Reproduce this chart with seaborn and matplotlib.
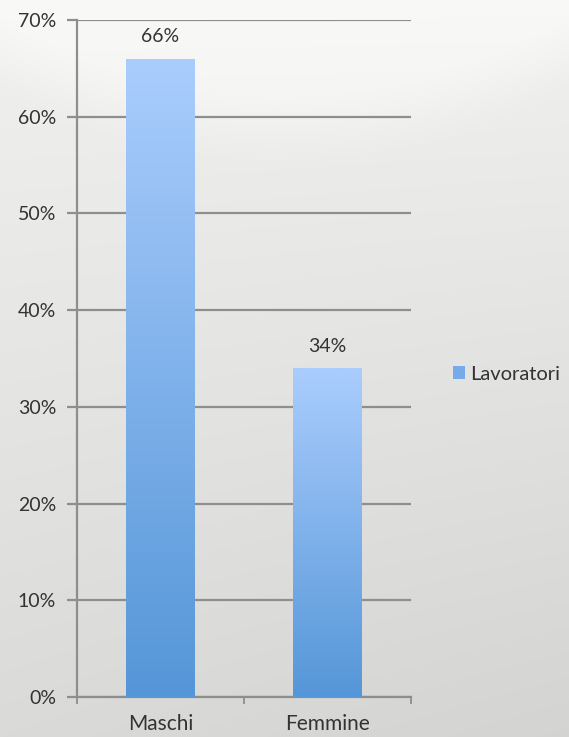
import numpy as np
import pandas as pd
import matplotlib
matplotlib.use("Agg")
import matplotlib.pyplot as plt
from matplotlib.colors import LinearSegmentedColormap
from matplotlib.patches import Patch
import seaborn as sns

categories = ["Maschi", "Femmine"]
values = [0.66, 0.34]
bar_labels = ["66%", "34%"]
y_ticks = [0.0, 0.1, 0.2, 0.3, 0.4, 0.5, 0.6, 0.7]
y_tick_labels = ["0%", "10%", "20%", "30%", "40%", "50%", "60%", "70%"]
series_name = "Lavoratori"

TEXT_COLOR = "#333333"
GRID_COLOR = "#8e8e8e"
BAR_TOP = "#aacdfd"
BAR_BOTTOM = "#5596d8"

sns.set_theme(style="white")
plt.rcParams["font.family"] = ["Lato", "DejaVu Sans"]

fig = plt.figure(figsize=(5.69, 7.37), dpi=100)

# background: light photo-like gradient
bg = fig.add_axes([0, 0, 1, 1], zorder=-10)
h, w = 300, 240
yy, xx = np.mgrid[0:1:h * 1j, 0:1:w * 1j]
base = 0.945 - 0.09 * yy - 0.025 * xx * yy
swoosh = 0.03 * np.clip(1 - (yy * 3.5 - 0.45 + (xx - 0.5) ** 2 * 1.5) * 3, 0, 1)
shade = np.clip(base + swoosh, 0, 1)
img = np.dstack([shade, shade, shade * 0.995])
bg.imshow(img, aspect="auto", extent=[0, 1, 0, 1], origin="upper")
bg.set_axis_off()

ax = fig.add_axes([77 / 569, 1 - 697 / 737, (411 - 77) / 569, (697 - 20) / 737])
ax.patch.set_alpha(0)

df = pd.DataFrame({"cat": categories, "val": values})
sns.barplot(data=df, x="cat", y="val", width=0.41, color=BAR_BOTTOM, ax=ax, zorder=3)

grad = LinearSegmentedColormap.from_list("bar", [BAR_BOTTOM, BAR_TOP])
gvals = np.linspace(0, 1, 256).reshape(-1, 1)
for p in ax.patches:
    x0, y0 = p.get_x(), p.get_y()
    pw, ph = p.get_width(), p.get_height()
    im = ax.imshow(gvals, cmap=grad, aspect="auto", origin="lower",
                   extent=[x0, x0 + pw, y0, y0 + ph], zorder=3)
    im.set_clip_path(p)
    p.set_facecolor("none")
    p.set_edgecolor("none")

for i, (v, lab) in enumerate(zip(values, bar_labels)):
    ax.annotate(lab, (i, v), xytext=(0, 22), textcoords="offset pixels",
                ha="center", va="center", fontsize=14, color=TEXT_COLOR)

ax.set_xlim(-0.5, 1.5)
ax.set_ylim(0, 0.7)
ax.set_yticks(y_ticks)
ax.set_yticklabels(y_tick_labels)
ax.yaxis.grid(True, color=GRID_COLOR, linewidth=1.6, zorder=1)
ax.set_axisbelow(True)

ax.set_xticks([0, 1])
ax.set_xticklabels(categories)
ax.set_xticks([-0.5, 0.5, 1.5], minor=True)
ax.tick_params(axis="x", which="major", length=0, pad=12, labelsize=15, labelcolor=TEXT_COLOR)
ax.tick_params(axis="x", which="minor", length=5, width=1.3, color=GRID_COLOR, direction="out", bottom=True)
ax.tick_params(axis="y", length=7, width=1.6, color=GRID_COLOR, direction="out", left=True,
               pad=8, labelsize=14, labelcolor=TEXT_COLOR)
ax.set_xlabel("")
ax.set_ylabel("")

for s in ["top", "right"]:
    ax.spines[s].set_visible(False)
for s in ["left", "bottom"]:
    ax.spines[s].set_color(GRID_COLOR)
    ax.spines[s].set_linewidth(1.6)

handle = Patch(facecolor="#75abea", edgecolor="none")
fig.legend([handle], [series_name], loc="center left", bbox_to_anchor=(453 / 569, 1 - 374 / 737),
           frameon=False, fontsize=14.5, handlelength=0.62, handleheight=0.62,
           handletextpad=0.25, borderpad=0, borderaxespad=0, labelcolor=TEXT_COLOR)

fig.savefig("out.png", dpi=100)
